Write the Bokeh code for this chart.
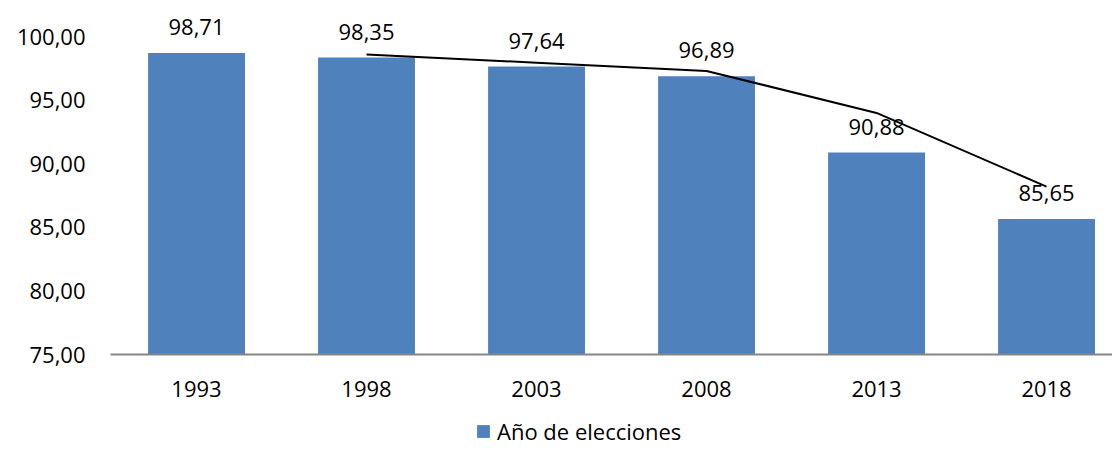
from bokeh.plotting import figure
from bokeh.layouts import column
from bokeh.models import Range1d, FixedTicker, Legend, LegendItem, ColumnDataSource
from bokeh.core.properties import value
from bokeh.embed import file_html
from bokeh.resources import INLINE

years = ["1993", "1998", "2003", "2008", "2013", "2018"]
values = [98.71, 98.35, 97.64, 96.89, 90.88, 85.65]
trend_years = ["1998", "2003", "2008", "2013", "2018"]
trend_values = [98.6, 97.95, 97.3, 94.0, 88.2]
y_ticks = [75, 80, 85, 90, 95, 100]
y_tick_labels = ["75,00", "80,00", "85,00", "90,00", "95,00", "100,00"]
legend_label = "Año de elecciones"

FONT = "Open Sans"
FS = "22px"
BAR_COLOR = "#4F81BD"

idx = list(range(len(years)))
trend_idx = [years.index(y) for y in trend_years]
labels = [f"{v:.2f}".replace(".", ",") for v in values]

p = figure(width=1112, height=407, output_backend="svg", toolbar_location=None,
           x_range=Range1d(-0.506, 5.388), y_range=Range1d(75, 102.84),
           min_border_left=110, min_border_right=0, min_border_top=0,
           min_border_bottom=53)
p.outline_line_color = None
p.xgrid.visible = False
p.ygrid.visible = False

src = ColumnDataSource(dict(x=idx, top=values, label=labels))
bars = p.vbar(x="x", top="top", bottom=75, width=0.57, source=src,
              fill_color=BAR_COLOR, line_color=None)
p.text(x="x", y="top", text="label", source=src, text_align="center",
       text_baseline="alphabetic", y_offset=-26, text_font=value(FONT),
       text_font_size=FS, text_color="#000000")
p.line(x=trend_idx, y=trend_values, line_color="black", line_width=2)

xa = p.xaxis[0]
xa.ticker = FixedTicker(ticks=idx)
xa.major_label_overrides = {i: y for i, y in zip(idx, years)}
xa.major_tick_line_color = None
xa.minor_tick_line_color = None
xa.axis_line_color = "#868686"
xa.axis_line_width = 2
xa.major_label_standoff = 20
xa.major_label_text_font = FONT
xa.major_label_text_font_size = FS
xa.major_label_text_color = "#000000"

ya = p.yaxis[0]
ya.ticker = FixedTicker(ticks=y_ticks)
ya.major_label_overrides = {t: l for t, l in zip(y_ticks, y_tick_labels)}
ya.major_tick_line_color = None
ya.minor_tick_line_color = None
ya.axis_line_color = None
ya.major_label_standoff = 19
ya.major_label_text_font = FONT
ya.major_label_text_font_size = FS
ya.major_label_text_color = "#000000"

# legend strip
p2 = figure(width=1112, height=40, output_backend="svg", toolbar_location=None,
            x_range=Range1d(0, 1), y_range=Range1d(0, 1),
            min_border=0, min_border_left=0, min_border_right=0,
            min_border_top=0, min_border_bottom=0)
p2.outline_line_color = None
p2.axis.visible = False
p2.grid.visible = False
leg_r = p2.vbar(x=[-10], top=[-10], bottom=-11, width=0.1,
                fill_color=BAR_COLOR, line_color=None)
legend = Legend(items=[LegendItem(label=legend_label, renderers=[leg_r])],
                location=(365, 1), orientation="horizontal",
                padding=0, margin=0, spacing=0, glyph_width=16, glyph_height=16,
                label_standoff=6, label_height=22,
                label_text_font=FONT, label_text_font_size=FS,
                label_text_color="#000000", border_line_color=None,
                background_fill_alpha=0)
p2.add_layout(legend, "center")

layout = column(p, p2, spacing=0)
open("out.html", "w").write(file_html(layout, INLINE))
